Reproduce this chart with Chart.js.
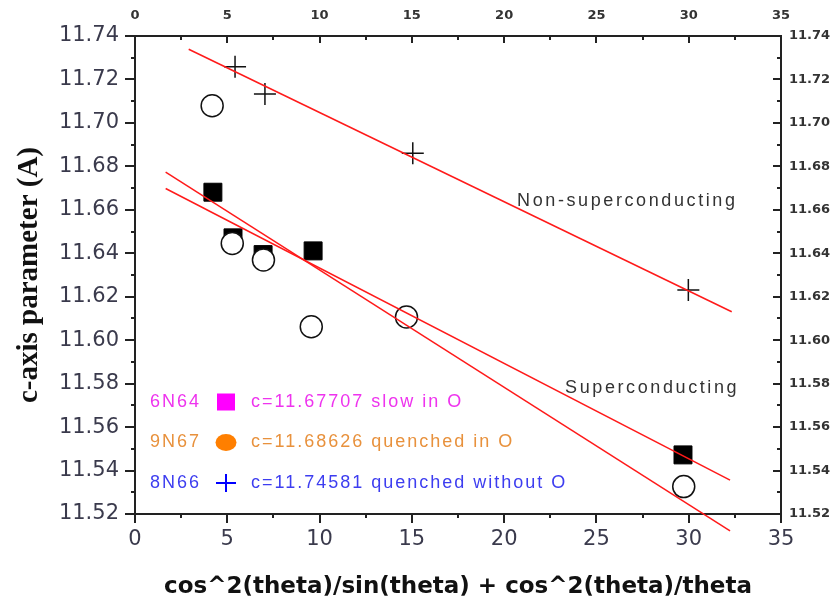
<!DOCTYPE html>
<html>
<head>
<meta charset="utf-8">
<title>c-axis parameter</title>
<script src="https://cdn.jsdelivr.net/npm/chart.js@4.4.0/dist/chart.umd.min.js"></script>
<style>
  html, body { margin: 0; padding: 0; background: #fff; }
</style>
</head>
<body>
<canvas id="cAxisChart" width="838" height="601"></canvas>
<script>
// --- measured c-axis values (A) ---
// 6N64, slow cooled in O
const slowX = [4.22, 5.31, 6.94, 9.65, 29.69];
const slowC = [11.6681, 11.6471, 11.6394, 11.6411, 11.5472];

// 9N67, quenched in O
const quenchX = [4.18, 5.27, 6.96, 9.55, 14.71, 29.73];
const quenchC = [11.7079, 11.6445, 11.6369, 11.6062, 11.6107, 11.5326];

// 8N66, quenched without O
const noOxX = [5.42, 7.04, 15.05, 29.98];
const noOxC = [11.7259, 11.7133, 11.6860, 11.6231];

// straight-line fits (end points)
const fitX = [1.66, 32.24];
const slowFitC = [11.6698, 11.5356];
const quenchFitC = [11.6773, 11.5122];
const noOxFitX = [2.91, 32.33];
const noOxFitC = [11.7339, 11.6131];

// axis ticks
const xTicks = [0, 5, 10, 15, 20, 25, 30, 35];
const yTicks = [11.52, 11.54, 11.56, 11.58, 11.60, 11.62, 11.64, 11.66, 11.68, 11.70, 11.72, 11.74];

const legendRows = [
    { name: '6N64', text: 'c=11.67707 slow in O', color: '#ee33ee', mark: '#ff00ff', shape: 'square' },
    { name: '9N67', text: 'c=11.68626 quenched in O', color: '#e8913c', mark: '#ff7f00', shape: 'blob' },
    { name: '8N66', text: 'c=11.74581 quenched without O', color: '#3d3df0', mark: '#0000ff', shape: 'cross' }
];

const axisColor = '#222';
const fitColor = '#ff1a1a';

const pairs = (xs, ys) => xs.map((x, i) => ({ x: x, y: ys[i] }));
const midpoints = ticks => ticks.slice(1).map((v, i) => (v + ticks[i]) / 2);
const xMinor = midpoints(xTicks);
const yMinor = midpoints(yTicks);

// tick marks: outward on bottom/left, inward on top/right, minor ticks halfway
const tickMarks = {
    id: 'tickMarks',
    afterDraw(chart) {
        const { ctx, chartArea: a, scales } = chart;
        const seg = (x1, y1, x2, y2) => { ctx.moveTo(x1, y1); ctx.lineTo(x2, y2); };
        ctx.save();
        ctx.strokeStyle = axisColor;
        ctx.lineWidth = 2;
        ctx.beginPath();
        xTicks.forEach(v => {
            const p = Math.round(scales.x.getPixelForValue(v));
            seg(p, a.bottom, p, a.bottom + 9);
            seg(p, a.top, p, a.top + 7);
        });
        xMinor.forEach(v => {
            const p = Math.round(scales.x.getPixelForValue(v));
            seg(p, a.bottom, p, a.bottom + 4);
            seg(p, a.top, p, a.top + 4);
        });
        yTicks.forEach(v => {
            const p = Math.round(scales.y.getPixelForValue(v));
            seg(a.left - 10, p, a.left, p);
            seg(a.right - 8, p, a.right, p);
        });
        yMinor.forEach(v => {
            const p = Math.round(scales.y.getPixelForValue(v));
            seg(a.left - 4, p, a.left, p);
            seg(a.right - 4, p, a.right, p);
        });
        ctx.stroke();
        ctx.restore();
    }
};

// text notes and the sample key inside the plot
const notes = {
    id: 'notes',
    afterDraw(chart) {
        const { ctx, chartArea: a, scales } = chart;
        ctx.save();
        ctx.textBaseline = 'middle';
        ctx.textAlign = 'left';
        ctx.font = '18px "Liberation Sans", Arial, sans-serif';
        ctx.letterSpacing = '2.6px';
        ctx.fillStyle = '#333';
        ctx.fillText('Non-superconducting', scales.x.getPixelForValue(20.7), scales.y.getPixelForValue(11.6641));
        ctx.fillText('Superconducting', scales.x.getPixelForValue(23.3), scales.y.getPixelForValue(11.578));

        ctx.letterSpacing = '2px';
        legendRows.forEach((row, i) => {
            const y = a.top + 366 + i * 40.5;
            const cx = a.left + 91;
            ctx.fillStyle = row.color;
            ctx.fillText(row.name, a.left + 15, y);
            ctx.fillText(row.text, a.left + 116, y);

            ctx.fillStyle = row.mark;
            ctx.strokeStyle = row.mark;
            if (row.shape === 'square') {
                ctx.fillRect(cx - 9, y - 8.5, 18, 17);
            } else if (row.shape === 'blob') {
                ctx.beginPath();
                ctx.ellipse(cx, y, 10.5, 8.5, 0, 0, Math.PI * 2);
                ctx.fill();
            } else {
                ctx.lineWidth = 2;
                ctx.beginPath();
                ctx.moveTo(cx - 10, y); ctx.lineTo(cx + 10, y);
                ctx.moveTo(cx, y - 9); ctx.lineTo(cx, y + 9);
                ctx.stroke();
            }
        });
        ctx.restore();
    }
};

const fitLine = (xs, ys) => ({
    data: pairs(xs, ys),
    showLine: true,
    borderColor: fitColor,
    borderWidth: 1.5,
    pointRadius: 0,
    fill: false,
    clip: false,
    order: 0
});

const tickFontBig = { family: '"DejaVu Sans", Verdana, sans-serif', size: 21 };
const tickFontSmall = { family: '"DejaVu Sans", Verdana, sans-serif', size: 13, weight: 'bold' };
const setTicks = list => scale => { scale.ticks = list.map(v => ({ value: v })); };

new Chart(document.getElementById('cAxisChart'), {
    type: 'scatter',
    data: {
        datasets: [
            fitLine(fitX, slowFitC),
            fitLine(fitX, quenchFitC),
            fitLine(noOxFitX, noOxFitC),
            {
                label: '9N67',
                data: pairs(quenchX, quenchC),
                pointStyle: 'circle',
                pointRadius: 11,
                pointBackgroundColor: '#fff',
                pointBorderColor: '#111',
                pointBorderWidth: 1.5,
                order: 1
            },
            {
                label: '6N64',
                data: pairs(slowX, slowC),
                pointStyle: 'rect',
                pointRadius: 12.7,
                pointBackgroundColor: '#000',
                pointBorderColor: '#000',
                pointBorderWidth: 1,
                order: 2
            },
            {
                label: '8N66',
                data: pairs(noOxX, noOxC),
                pointStyle: 'cross',
                pointRadius: 11,
                pointBackgroundColor: 'transparent',
                pointBorderColor: '#111',
                pointBorderWidth: 1.5,
                order: 3
            }
        ]
    },
    options: {
        responsive: false,
        animation: false,
        events: [],
        layout: { padding: 0 },
        plugins: {
            legend: { display: false },
            tooltip: { enabled: false }
        },
        scales: {
            x: {
                type: 'linear',
                position: 'bottom',
                min: 0,
                max: 35,
                afterBuildTicks: setTicks(xTicks),
                afterFit: s => { s.height = 87; },
                grid: { display: false, drawTicks: false },
                border: { color: axisColor, width: 2 },
                ticks: { font: tickFontBig, color: '#3a3a4c', padding: 13, autoSkip: false, maxRotation: 0 },
                title: {
                    display: true,
                    text: 'cos^2(theta)/sin(theta) + cos^2(theta)/theta',
                    color: '#111',
                    font: { family: '"DejaVu Sans", Verdana, sans-serif', size: 23, weight: 'bold' },
                    padding: { top: 0, bottom: 0 }
                }
            },
            x2: {
                type: 'linear',
                axis: 'x',
                position: 'top',
                min: 0,
                max: 35,
                afterBuildTicks: setTicks(xTicks),
                afterFit: s => { s.height = 36; },
                grid: { display: false, drawTicks: false },
                border: { color: axisColor, width: 2 },
                ticks: { font: tickFontSmall, color: '#333', padding: 13, autoSkip: false, maxRotation: 0 }
            },
            y: {
                type: 'linear',
                position: 'left',
                min: 11.52,
                max: 11.74,
                afterBuildTicks: setTicks(yTicks),
                afterFit: s => { s.width = 135; },
                grid: { display: false, drawTicks: false },
                border: { color: axisColor, width: 2 },
                ticks: { font: tickFontBig, color: '#3a3a4c', padding: 16, callback: v => v.toFixed(2) },
                title: {
                    display: true,
                    text: 'c-axis parameter (A)',
                    color: '#111',
                    font: { family: '"Liberation Serif", "Times New Roman", serif', size: 29, weight: 'bold' },
                    padding: { top: 12, bottom: 0 }
                }
            },
            y2: {
                type: 'linear',
                axis: 'y',
                position: 'right',
                min: 11.52,
                max: 11.74,
                afterBuildTicks: setTicks(yTicks),
                afterFit: s => { s.width = 57; },
                grid: { display: false, drawTicks: false },
                border: { color: axisColor, width: 2 },
                ticks: { font: tickFontSmall, color: '#333', padding: 8, callback: v => v.toFixed(2) }
            }
        }
    },
    plugins: [tickMarks, notes]
});
</script>
</body>
</html>
